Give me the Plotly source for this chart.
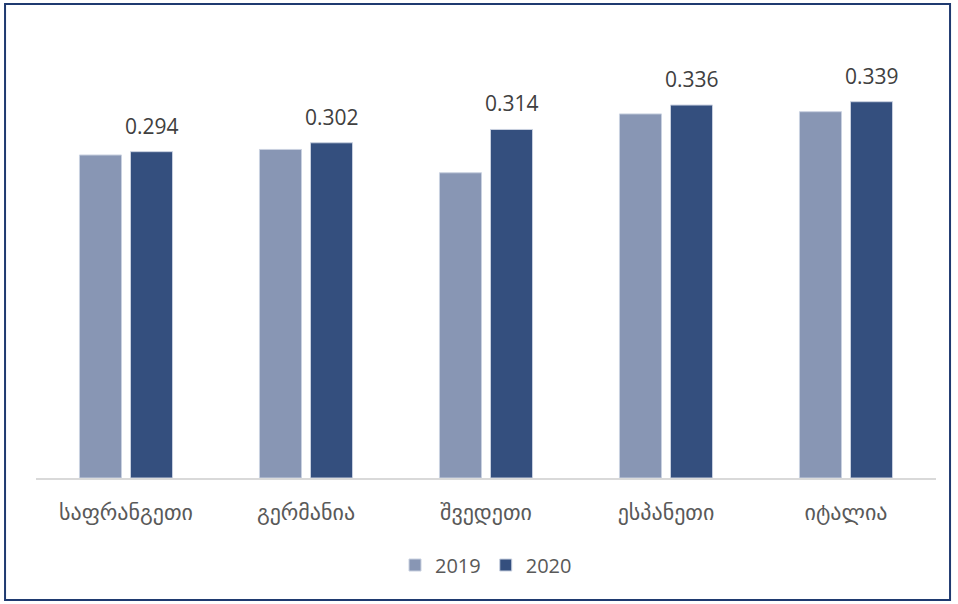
import plotly.graph_objects as go

categories = ["საფრანგეთი", "გერმანია", "შვედეთი", "ესპანეთი", "იტალია"]
values_2019 = [0.291, 0.296, 0.275, 0.328, 0.330]
values_2020 = [0.294, 0.302, 0.314, 0.336, 0.339]
series_names = ["2019", "2020"]

c2019 = "#8896B4"
c2020 = "#344F7E"

fig = go.Figure()
fig.add_trace(go.Bar(x=categories, y=values_2019, name=series_names[0],
                     marker=dict(color=c2019, line=dict(color="#C9D1E0", width=1))))
fig.add_trace(go.Bar(x=categories, y=values_2020, name=series_names[1],
                     marker=dict(color=c2020, line=dict(color="#C9D1E0", width=1))))

for c, v in zip(categories, values_2020):
    fig.add_annotation(x=c, y=v, text=f"{v:.3f}", showarrow=False, xref="x", yref="y",
                       xanchor="center", yanchor="bottom", xshift=25.5, yshift=10,
                       font=dict(family="Open Sans, DejaVu Sans", size=21, color="#404040"))

# outer border
fig.add_shape(type="rect", xref="paper", yref="paper",
              x0=-0.0344, x1=1.0156, y0=-0.2748, y1=1.0676,
              line=dict(color="#1F3A70", width=2), fillcolor="rgba(0,0,0,0)")

fig.update_layout(
    width=958, height=604,
    margin=dict(l=36, r=22, t=34, b=126),
    paper_bgcolor="white", plot_bgcolor="white",
    barmode="group", bargap=0.433, bargroupgap=0.176,
    showlegend=True,
    legend=dict(orientation="h", x=0.5, xanchor="center", y=-0.196, yanchor="middle",
                font=dict(family="Open Sans, DejaVu Sans", size=20, color="#595959"),
                itemclick=False),
    xaxis=dict(showline=True, linecolor="#D9D9D9", linewidth=1.5,
               ticks="outside", ticklen=14, tickcolor="rgba(0,0,0,0)",
               tickfont=dict(family="DejaVu Sans", size=22, color="#595959"),
               showgrid=False),
    yaxis=dict(range=[0, 0.4], visible=False, showgrid=False),
)

fig.write_html("out.html", config={"displayModeBar": False},
               post_script="document.body.style.margin='0';document.body.style.overflow='hidden';")
